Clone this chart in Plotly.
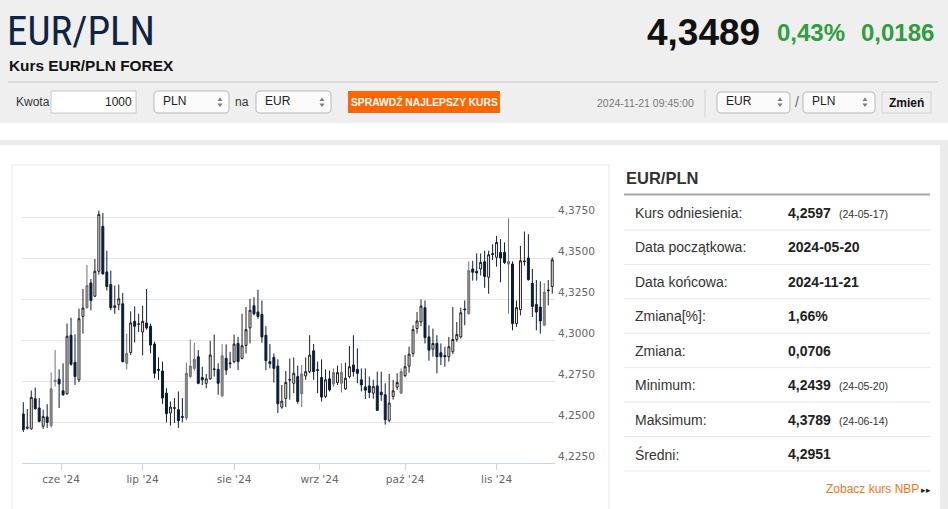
import pandas as pd
import plotly.graph_objects as go

# ---------------- data ----------------
dates = pd.bdate_range("2024-05-20", "2024-11-21")

open_ = [4.2549, 4.2462, 4.2458, 4.2642, 4.2585, 4.2474, 4.2531, 4.2478, 4.2747, 4.2761,
         4.2690, 4.2672, 4.3029, 4.2864, 4.2757, 4.3144, 4.3197, 4.3348, 4.3267, 4.3419,
         4.3693, 4.3415, 4.3338, 4.3197, 4.3215, 4.3221, 4.2858, 4.2924, 4.3114, 4.3096,
         4.3049, 4.3104, 4.3084, 4.2975, 4.2821, 4.2811, 4.2676, 4.2555, 4.2583, 4.2575,
         4.2533, 4.2525, 4.2777, 4.2827, 4.2898, 4.2771, 4.2736, 4.2763, 4.2819, 4.2821,
         4.2660, 4.2888, 4.2860, 4.2868, 4.2979, 4.2888, 4.2967, 4.3074, 4.3209, 4.3171,
         4.3156, 4.3029, 4.2868, 4.2894, 4.2841, 4.2591, 4.2644, 4.2755, 4.2736, 4.2777,
         4.2672, 4.2781, 4.2807, 4.2934, 4.2819, 4.2771, 4.2656, 4.2763, 4.2732, 4.2741,
         4.2736, 4.2702, 4.2777, 4.2848, 4.2821, 4.2757, 4.2714, 4.2720, 4.2676, 4.2720,
         4.2682, 4.2666, 4.2510, 4.2656, 4.2712, 4.2676, 4.2783, 4.2841, 4.2918, 4.3070,
         4.3110, 4.3197, 4.3019, 4.2944, 4.2979, 4.2922, 4.2906, 4.2898, 4.2928, 4.3003,
         4.3019, 4.3189, 4.3160, 4.3433, 4.3419, 4.3433, 4.3477, 4.3383, 4.3526, 4.3504,
         4.3534, 4.3534, 4.3463, 4.3463, 4.3100, 4.3185, 4.3477, 4.3500, 4.3346, 4.3217,
         4.3201, 4.3090, 4.3300, 4.3326]
high = [4.2621, 4.2579, 4.2692, 4.2710, 4.2646, 4.2575, 4.2609, 4.2801, 4.2938, 4.2821,
        4.2858, 4.3100, 4.3136, 4.3035, 4.3191, 4.3312, 4.3457, 4.3372, 4.3494, 4.3789,
        4.3774, 4.3544, 4.3423, 4.3332, 4.3338, 4.3286, 4.3039, 4.3175, 4.3205, 4.3160,
        4.3209, 4.3312, 4.3100, 4.2989, 4.2894, 4.2868, 4.2706, 4.2625, 4.2646, 4.2686,
        4.2646, 4.2862, 4.3003, 4.2983, 4.2938, 4.2837, 4.2793, 4.2995, 4.3033, 4.2858,
        4.2975, 4.2973, 4.2928, 4.3033, 4.3019, 4.3160, 4.3201, 4.3251, 4.3261, 4.3306,
        4.3241, 4.3084, 4.2975, 4.2918, 4.2882, 4.2726, 4.2811, 4.2888, 4.2894, 4.2844,
        4.2848, 4.2894, 4.3029, 4.2975, 4.2868, 4.2882, 4.2821, 4.2813, 4.2827, 4.2844,
        4.2858, 4.2862, 4.2963, 4.3029, 4.2949, 4.2827, 4.2827, 4.2777, 4.2757, 4.2807,
        4.2807, 4.2736, 4.2793, 4.2757, 4.2797, 4.2827, 4.2908, 4.2959, 4.3090, 4.3171,
        4.3247, 4.3241, 4.3090, 4.3070, 4.3029, 4.2979, 4.2959, 4.3019, 4.3201, 4.3110,
        4.3197, 4.3241, 4.3479, 4.3483, 4.3528, 4.3528, 4.3544, 4.3544, 4.3584, 4.3635,
        4.3615, 4.3595, 4.3742, 4.3479, 4.3241, 4.3574, 4.3661, 4.3645, 4.3433, 4.3366,
        4.3358, 4.3346, 4.3366, 4.3504]
low = [4.2439, 4.2454, 4.2454, 4.2575, 4.2498, 4.2458, 4.2464, 4.2466, 4.2716, 4.2585,
       4.2660, 4.2666, 4.2844, 4.2726, 4.2743, 4.3039, 4.3191, 4.3181, 4.3261, 4.3399,
       4.3399, 4.3302, 4.3181, 4.3160, 4.3181, 4.2864, 4.2821, 4.2908, 4.2985, 4.3049,
       4.2906, 4.3063, 4.2918, 4.2767, 4.2757, 4.2611, 4.2498, 4.2478, 4.2494, 4.2464,
       4.2498, 4.2510, 4.2767, 4.2813, 4.2730, 4.2726, 4.2706, 4.2757, 4.2777, 4.2666,
       4.2652, 4.2787, 4.2827, 4.2858, 4.2817, 4.2882, 4.2918, 4.2979, 4.3150, 4.3130,
       4.2983, 4.2817, 4.2827, 4.2741, 4.2555, 4.2581, 4.2591, 4.2636, 4.2676, 4.2611,
       4.2591, 4.2757, 4.2797, 4.2757, 4.2676, 4.2625, 4.2646, 4.2686, 4.2716, 4.2726,
       4.2680, 4.2696, 4.2767, 4.2777, 4.2736, 4.2686, 4.2640, 4.2646, 4.2642, 4.2569,
       4.2629, 4.2484, 4.2498, 4.2636, 4.2696, 4.2672, 4.2773, 4.2801, 4.2898, 4.3039,
       4.3084, 4.2979, 4.2874, 4.2898, 4.2797, 4.2847, 4.2837, 4.2868, 4.2914, 4.2989,
       4.3009, 4.3090, 4.3156, 4.3362, 4.3362, 4.3393, 4.3318, 4.3282, 4.3488, 4.3447,
       4.3352, 4.3463, 4.3160, 4.3059, 4.3080, 4.3150, 4.3453, 4.3362, 4.3140, 4.3059,
       4.3039, 4.3084, 4.3211, 4.3282]
close = [4.2454, 4.2468, 4.2650, 4.2581, 4.2504, 4.2533, 4.2498, 4.2702, 4.2753, 4.2732,
         4.2666, 4.3023, 4.2852, 4.2777, 4.3130, 4.3195, 4.3332, 4.3241, 4.3419, 4.3766,
         4.3403, 4.3326, 4.3197, 4.3209, 4.3251, 4.2868, 4.2918, 4.3104, 4.3084, 4.3098,
         4.3114, 4.3074, 4.2969, 4.2797, 4.2815, 4.2646, 4.2551, 4.2591, 4.2587, 4.2508,
         4.2529, 4.2797, 4.2841, 4.2882, 4.2736, 4.2757, 4.2763, 4.2908, 4.2823, 4.2736,
         4.2904, 4.2817, 4.2856, 4.2975, 4.2868, 4.2965, 4.3063, 4.3181, 4.3160, 4.3144,
         4.3019, 4.2874, 4.2856, 4.2827, 4.2611, 4.2627, 4.2741, 4.2759, 4.2797, 4.2625,
         4.2793, 4.2807, 4.2908, 4.2807, 4.2815, 4.2652, 4.2757, 4.2696, 4.2801, 4.2801,
         4.2803, 4.2767, 4.2837, 4.2807, 4.2797, 4.2726, 4.2694, 4.2680, 4.2716, 4.2571,
         4.2666, 4.2514, 4.2615, 4.2690, 4.2741, 4.2807, 4.2837, 4.2914, 4.3063, 4.3116,
         4.3207, 4.3015, 4.2938, 4.2979, 4.2898, 4.2898, 4.2898, 4.2959, 4.3003, 4.3033,
         4.3166, 4.3185, 4.3423, 4.3413, 4.3409, 4.3473, 4.3387, 4.3520, 4.3522, 4.3595,
         4.3500, 4.3473, 4.3479, 4.3100, 4.3197, 4.3483, 4.3481, 4.3368, 4.3205, 4.3171,
         4.3116, 4.3292, 4.3304, 4.3489]
# sessions drawn as grey (filled) candles
grey_sessions = [7, 8, 16, 26, 41, 42, 43, 50, 70, 78, 80, 95, 112, 122, 131]

month_tick_dates = ["2024-06-03 00:00", "2024-07-01 12:00", "2024-08-01 12:00",
                    "2024-09-02 00:00", "2024-10-01 12:00", "2024-11-01 12:00"]
month_labels = ["cze '24", "lip '24", "sie '24", "wrz '24", "paź '24", "lis '24"]
y_ticks = [4.225, 4.25, 4.275, 4.30, 4.325, 4.35, 4.375, 4.40]
y_labels = ["4,2250", "4,2500", "4,2750", "4,3000", "4,3250", "4,3500", "4,3750", ""]

pair = "EUR/PLN"
last_price = "4,3489"
change_pct = "0,43%"
change_abs = "0,0186"
quote_time = "2024-11-21 09:45:00"

stat_labels = ["Kurs odniesienia:", "Data początkowa:", "Data końcowa:", "Zmiana[%]:",
               "Zmiana:", "Minimum:", "Maksimum:", "Średni:"]
stat_values = ["4,2597", "2024-05-20", "2024-11-21", "1,66%", "0,0706", "4,2439", "4,3789", "4,2951"]
stat_notes = ["(24-05-17)", "", "", "", "", "(24-05-20)", "(24-06-14)", ""]

# ---------------- helpers (page geometry in pixels) ----------------
W, H = 948, 509
def px(x): return x / W
def py(y): return 1 - y / H

shapes, annotations = [], []

def rect(x0, y0, x1, y1, fill, line=None, lw=1, layer="below"):
    shapes.append(dict(type="rect", xref="paper", yref="paper",
                       x0=px(x0), x1=px(x1), y0=py(y1), y1=py(y0),
                       fillcolor=fill, layer=layer,
                       line=dict(color=line or fill, width=lw if line else 0)))

def hline(x0, x1, y, color, lw=1, layer="below"):
    shapes.append(dict(type="line", xref="paper", yref="paper",
                       x0=px(x0), x1=px(x1), y0=py(y), y1=py(y),
                       line=dict(color=color, width=lw), layer=layer))

def vline(x, y0, y1, color, lw=1):
    shapes.append(dict(type="line", xref="paper", yref="paper",
                       x0=px(x), x1=px(x), y0=py(y0), y1=py(y1),
                       line=dict(color=color, width=lw), layer="above"))

def P(x, y):
    return f"{px(x):.5f},{py(y):.5f}"

def rrect(x0, y0, x1, y1, r, fill, line):
    path = (f"M{P(x0+r,y0)} L{P(x1-r,y0)} Q{P(x1,y0)} {P(x1,y0+r)} L{P(x1,y1-r)} "
            f"Q{P(x1,y1)} {P(x1-r,y1)} L{P(x0+r,y1)} Q{P(x0,y1)} {P(x0,y1-r)} "
            f"L{P(x0,y0+r)} Q{P(x0,y0)} {P(x0+r,y0)} Z")
    shapes.append(dict(type="path", xref="paper", yref="paper", path=path,
                       fillcolor=fill, line=dict(color=line, width=1), layer="above"))

def arrows(cx, cy):
    up = f"M{P(cx-2.5,cy-1)} L{P(cx+2.5,cy-1)} L{P(cx,cy-4.5)} Z"
    dn = f"M{P(cx-2.5,cy+1.5)} L{P(cx+2.5,cy+1.5)} L{P(cx,cy+5)} Z"
    for p in (up, dn):
        shapes.append(dict(type="path", xref="paper", yref="paper", path=p,
                           fillcolor="#7a7a7a", line=dict(width=0), layer="above"))

def text(x, y, s, size, color="#333", family="Liberation Sans, Arial, sans-serif",
         xanchor="left", bold=False):
    annotations.append(dict(xref="paper", yref="paper", x=px(x), y=py(y),
                            text=f"<b>{s}</b>" if bold else s, showarrow=False,
                            xanchor=xanchor, yanchor="middle", borderpad=0,
                            font=dict(size=size, color=color, family=family)))

# ---------------- page background ----------------
rect(0, 0, W, 123, "#efefef")
rect(0, 123, W, 140, "#ffffff")
rect(0, 145, 940, H + 5, "#ffffff")
rect(12, 165, 609, H + 20, "#ffffff", line="#e6e6e6")
hline(8, 938, 82, "#d9d9d9", lw=2)

# header
text(6, 31, pair, 41, color="#0f2444",
     family="Liberation Sans Narrow, Arial Narrow, Roboto Condensed, Liberation Sans, sans-serif")
text(8, 65, "Kurs EUR/PLN FOREX", 15.4, color="#111", bold=True)
text(761, 32, last_price, 37, color="#111", xanchor="right", bold=True)
text(776, 33, change_pct, 24, color="#2e9e3e", bold=True)
text(935, 33, change_abs, 24, color="#2e9e3e", xanchor="right", bold=True)

# converter row
text(15, 102, "Kwota", 12)
rect(51, 91, 136, 113, "#ffffff", line="#c6c6c6", layer="above")
text(133, 102, "1000", 12, color="#222", xanchor="right")
rrect(154, 91, 229, 113, 4, "#fbfbfb", "#b8b8b8")
text(162, 101, "PLN", 12, color="#222")
arrows(220, 102)
text(234, 102, "na", 12)
rrect(256, 91, 331, 113, 4, "#fbfbfb", "#b8b8b8")
text(264, 101, "EUR", 12, color="#222")
arrows(322, 102)
rect(348, 91, 500, 113, "#ff6600", layer="above")
text(424, 102, "SPRAWDŹ NAJLEPSZY KURS", 10.3, color="#ffffff", xanchor="center", bold=True)
text(596, 103, quote_time, 10.5, color="#777")
vline(705, 89, 117, "#d4d4d4")
rrect(717, 92, 790, 113, 4, "#fbfbfb", "#b8b8b8")
text(725, 101, "EUR", 12, color="#222")
arrows(780, 102)
text(797, 102, "/", 14, color="#666", xanchor="center")
rrect(803, 92, 875, 113, 4, "#fbfbfb", "#b8b8b8")
text(811, 101, "PLN", 12, color="#222")
arrows(865, 102)
rect(882, 92, 931, 113, "#efefef", line="#d2d2d2", layer="above")
text(906.5, 103, "Zmień", 12, color="#111", xanchor="center", bold=True)

# statistics panel
text(625, 178, pair, 16.5, color="#333", bold=True)
hline(624, 930, 194.5, "#a8a8a8", lw=2)
for k, (lab, val, note) in enumerate(zip(stat_labels, stat_values, stat_notes)):
    yc = 213 + 34.45 * k
    text(634, yc, lab, 14, color="#333")
    text(787, yc, val, 14, color="#222", bold=True)
    if note:
        text(838, yc + 1, note, 10.5, color="#333")
    hline(624, 930, 230 + 34.43 * k, "#e8e8e8")
text(825, 489, "Zobacz kurs NBP", 12, color="#f7731c")
text(920, 490, "▸▸", 8.5, color="#222")

# ---------------- chart ----------------
xs = [d + pd.Timedelta(hours=12) for d in dates]
grey = set(grey_sessions)
main_i = [i for i in range(len(xs)) if i not in grey]
grey_i = [i for i in range(len(xs)) if i in grey]

def pick(arr, idx):
    return [arr[i] for i in idx]

fig = go.Figure()
fig.add_trace(go.Candlestick(
    x=pick(xs, main_i), open=pick(open_, main_i), high=pick(high, main_i),
    low=pick(low, main_i), close=pick(close, main_i),
    increasing=dict(fillcolor="#ffffff", line=dict(color="#1e1e1e", width=1)),
    decreasing=dict(fillcolor="#0c1c38", line=dict(color="#0c1c38", width=1)),
    whiskerwidth=0, showlegend=False, hoverinfo="skip"))
fig.add_trace(go.Candlestick(
    x=pick(xs, grey_i), open=pick(open_, grey_i), high=pick(high, grey_i),
    low=pick(low, grey_i), close=pick(close, grey_i),
    increasing=dict(fillcolor="#8c8c8c", line=dict(color="#737373", width=1)),
    decreasing=dict(fillcolor="#8c8c8c", line=dict(color="#737373", width=1)),
    whiskerwidth=0, showlegend=False, hoverinfo="skip"))

fig.update_layout(
    width=W, height=H, autosize=False, margin=dict(l=0, r=0, t=0, b=0),
    paper_bgcolor="#ebebeb", plot_bgcolor="#ffffff",
    shapes=shapes, annotations=annotations, showlegend=False,
    font=dict(family="Liberation Sans, Arial, sans-serif"),
    xaxis=dict(domain=[px(22), px(555)], type="date",
               range=["2024-05-20 04:09", "2024-11-22 04:34"],
               rangebreaks=[dict(bounds=["sat", "mon"])],
               rangeslider=dict(visible=False),
               tickmode="array", tickvals=month_tick_dates, ticktext=month_labels,
               showgrid=False, zeroline=False,
               showline=True, linecolor="#ccd6eb", linewidth=1,
               ticks="outside", ticklen=6, tickcolor="#ccd6eb",
               tickfont=dict(family="DejaVu Sans, sans-serif", size=10.6, color="#666666"),
               fixedrange=True),
    yaxis=dict(domain=[py(463), py(176)], range=[4.225, 4.40],
               side="right", tickmode="array", tickvals=y_ticks, ticktext=y_labels,
               showgrid=True, gridcolor="#e6e6e6", gridwidth=1, zeroline=False,
               showline=False, ticks="", ticklabelstandoff=2, ticklabelshift=-7,
               tickfont=dict(family="DejaVu Sans, sans-serif", size=10.6, color="#666666"),
               fixedrange=True),
)

page_css = ("document.documentElement.style.margin='0';document.body.style.margin='0';"
            "document.documentElement.style.overflow='hidden';document.body.style.overflow='hidden';")
fig.write_html("out.html", config={"displayModeBar": False, "staticPlot": True},
               post_script=page_css)
